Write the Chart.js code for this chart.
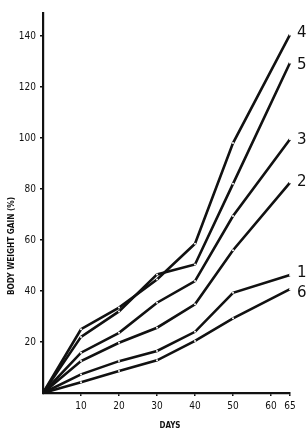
<!DOCTYPE html>
<html><head><meta charset="utf-8">
<script src="https://cdn.jsdelivr.net/npm/chart.js@4"></script>
<style>html,body{margin:0;padding:0;background:#fff}#c{display:block}</style>
</head><body>
<canvas id="c" width="308" height="431"></canvas>
<script>
const days = [0, 10, 20, 30, 40, 50, 65];
const seriesNames = ['1', '2', '3', '4', '5', '6'];
const s1 = [0, 7.3, 12.5, 16.5, 24, 39.3, 46.3];
const s2 = [0, 12.5, 19.7, 25.6, 34.8, 56, 82.5];
const s3 = [0, 15.8, 23.6, 35.4, 43.9, 69.4, 99.5];
const s4 = [0, 25, 33.5, 44.5, 58.5, 98, 140.5];
const s5 = [0, 22, 32, 46.5, 50.4, 82, 129.5];
const s6 = [0, 4.2, 8.6, 12.8, 20.4, 29.3, 40.7];
const yTicks = [20, 40, 60, 80, 100, 120, 140];
const xTicks = [10, 20, 30, 40, 50, 60, 65];
const xTitle = 'DAYS';
const yTitle = 'BODY WEIGHT GAIN (%)';

const allSeries = [s1, s2, s3, s4, s5, s6];
const labelDy = [-2, 0, 1, -2, 2, 4];
const INK = '#111';
const tickFont = {family: '"DejaVu Sans Condensed", "DejaVu Sans", sans-serif', size: 10};

const datasets = allSeries.map((s, i) => ({
  label: seriesNames[i],
  data: days.map((d, j) => ({x: d, y: s[j]})),
  borderColor: INK,
  borderWidth: 2.6,
  pointRadius: days.map((d, j) => j === 0 ? 0 : 1),
  pointBackgroundColor: '#fff',
  pointBorderWidth: 0,
  tension: 0,
  fill: false,
  clip: false
}));

const annot = {
  id: 'annot',
  afterDraw(chart) {
    const ctx = chart.ctx;
    const area = chart.chartArea;
    ctx.save();
    ctx.fillStyle = INK;
    // series labels
    ctx.font = '15px "DejaVu Sans", sans-serif';
    ctx.textAlign = 'left';
    ctx.textBaseline = 'middle';
    chart.data.datasets.forEach((ds, i) => {
      const meta = chart.getDatasetMeta(i);
      const p = meta.data[meta.data.length - 1];
      ctx.fillText(ds.label, p.x + 7, p.y + labelDy[i]);
    });
    // x title
    ctx.font = 'bold 9px "DejaVu Sans Condensed", sans-serif';
    ctx.textAlign = 'center';
    let w = ctx.measureText(xTitle).width;
    ctx.save();
    ctx.translate(170, 426);
    ctx.scale(21 / w, 1);
    ctx.fillText(xTitle, 0, 0);
    ctx.restore();
    // y title
    w = ctx.measureText(yTitle).width;
    ctx.save();
    ctx.translate(12, 246);
    ctx.rotate(-Math.PI / 2);
    ctx.scale(98 / w, 1);
    ctx.fillText(yTitle, 0, 0);
    ctx.restore();
    ctx.restore();
  }
};

new Chart(document.getElementById('c'), {
  type: 'line',
  data: {datasets},
  options: {
    responsive: false,
    animation: false,
    events: [],
    layout: {padding: {top: 13, right: 18, left: 0, bottom: 0}},
    plugins: {legend: {display: false}, tooltip: {enabled: false}},
    scales: {
      x: {
        type: 'linear', min: 0, max: 65,
        afterBuildTicks: s => { s.ticks = xTicks.map(v => ({value: v})); },
        afterFit: s => { s.height = 38; },
        border: {display: true, color: INK, width: 2.2},
        grid: {drawOnChartArea: false, drawTicks: true, tickLength: 3, color: INK, lineWidth: 1.5},
        ticks: {font: tickFont, color: INK, padding: 4, maxRotation: 0, autoSkip: false}
      },
      y: {
        min: 0, max: 149,
        afterBuildTicks: s => { s.ticks = yTicks.map(v => ({value: v})); },
        afterFit: s => { s.width = 43; },
        border: {display: true, color: INK, width: 2.2},
        grid: {drawOnChartArea: false, drawTicks: true, tickLength: 3, color: INK, lineWidth: 1.5},
        ticks: {font: tickFont, color: INK, padding: 4}
      }
    }
  },
  plugins: [annot]
});
</script>
</body></html>
